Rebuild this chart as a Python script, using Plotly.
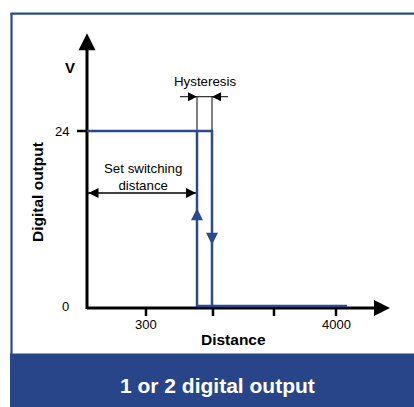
import plotly.graph_objects as go

# ---------------- data (schematic units) ----------------
Y_LEVELS = [0, 24]                    # digital output levels (V)
Y_TICK_TEXT = ["0", "24"]
X_TICKS = [5.9, 12.6, 18.7, 24.9]     # distance tick positions
X_TICK_TEXT = ["300", "", "", "4000"]
SWITCH_ON = 11.0                      # set switching distance
SWITCH_OFF = 12.5                     # switching distance + hysteresis
OUTPUT_END = 26.0
X_AXIS_END = 30.3
Y_AXIS_END = 37.4
HYST_LEVEL = 28.7
SET_LEVEL = 15.5
UP_ARROW_Y = 13.4
DOWN_ARROW_Y = 8.4

# ---------------- styling / geometry ----------------
W, H = 414, 407
X0_PX, XSCALE = 87.0, 10.0            # px of x=0, px per unit
Y0_PX, YSCALE = 306.0, 175.0 / 24.0   # px of y=0, px per unit
x_range = [(0 - X0_PX) / XSCALE, (W - X0_PX) / XSCALE]
y_range = [(Y0_PX - H) / YSCALE, (Y0_PX - 0) / YSCALE]
BLUE = "#2B4A8E"
FONT = "Liberation Sans, Arial, sans-serif"
px_x = lambda p: p / XSCALE
px_y = lambda p: p / YSCALE
AXIS_Y = -px_y(2)  # axis drawn just below the low output level

fig = go.Figure()

# output curve (hysteresis loop)
lo, hi = Y_LEVELS
fig.add_trace(go.Scatter(
    x=[0, SWITCH_OFF, SWITCH_OFF, None, SWITCH_ON, SWITCH_ON, OUTPUT_END],
    y=[hi, hi, lo, None, hi, lo, lo],
    mode="lines", line=dict(color=BLUE, width=2.5), hoverinfo="skip"))

# direction arrows on the curve
fig.add_trace(go.Scatter(x=[SWITCH_ON], y=[UP_ARROW_Y], mode="markers",
                         marker=dict(symbol="arrow-up", size=12, color=BLUE), hoverinfo="skip"))
fig.add_trace(go.Scatter(x=[SWITCH_OFF], y=[DOWN_ARROW_Y], mode="markers",
                         marker=dict(symbol="arrow-down", size=12, color=BLUE), hoverinfo="skip"))

shapes = []
# axes lines
shapes.append(dict(type="line", xref="x", yref="y", x0=0, x1=X_AXIS_END - px_x(12),
                   y0=AXIS_Y, y1=AXIS_Y, line=dict(color="black", width=3), layer="below"))
shapes.append(dict(type="line", xref="x", yref="y", x0=0, x1=0,
                   y0=AXIS_Y - px_y(1), y1=Y_AXIS_END - px_y(12), line=dict(color="black", width=3), layer="below"))
# x ticks
for t in X_TICKS:
    shapes.append(dict(type="line", xref="x", yref="y", x0=t, x1=t,
                       y0=AXIS_Y, y1=AXIS_Y - px_y(8), line=dict(color="black", width=2.5), layer="below"))
# y tick at 24
shapes.append(dict(type="line", xref="x", yref="y", x0=-px_x(10), x1=0,
                   y0=hi, y1=hi, line=dict(color="black", width=2.5), layer="below"))
# hysteresis guide lines
for xv in [SWITCH_ON, SWITCH_OFF]:
    shapes.append(dict(type="line", xref="x", yref="y", x0=xv, x1=xv,
                       y0=hi, y1=HYST_LEVEL, line=dict(color="black", width=1), layer="below"))
shapes.append(dict(type="line", xref="x", yref="y", x0=SWITCH_ON - px_x(17), x1=SWITCH_OFF + px_x(16),
                   y0=HYST_LEVEL, y1=HYST_LEVEL, line=dict(color="black", width=1), layer="below"))
# set switching distance line
shapes.append(dict(type="line", xref="x", yref="y", x0=0, x1=SWITCH_ON,
                   y0=SET_LEVEL, y1=SET_LEVEL, line=dict(color="black", width=1.3), layer="below"))
# frame and banner
shapes.append(dict(type="line", xref="paper", yref="paper", x0=10.5 / W, x1=1,
                   y0=1 - 13.7 / H, y1=1 - 13.7 / H, line=dict(color=BLUE, width=2.2)))
shapes.append(dict(type="line", xref="paper", yref="paper", x0=11.5 / W, x1=11.5 / W,
                   y0=1 - 13 / H, y1=1 - 354 / H, line=dict(color=BLUE, width=2.2)))
shapes.append(dict(type="rect", xref="paper", yref="paper", x0=10 / W, x1=1,
                   y0=0, y1=1 - 353.5 / H, line=dict(width=0), fillcolor="#28458A"))

# black arrowheads
fig.add_trace(go.Scatter(x=[0], y=[Y_AXIS_END], mode="markers",
                         marker=dict(symbol="arrow-up", size=17, color="black"), hoverinfo="skip"))
fig.add_trace(go.Scatter(x=[X_AXIS_END], y=[AXIS_Y], mode="markers",
                         marker=dict(symbol="arrow-right", size=16, color="black"), hoverinfo="skip"))
fig.add_trace(go.Scatter(x=[SWITCH_ON, SWITCH_OFF], y=[HYST_LEVEL, HYST_LEVEL], mode="markers",
                         marker=dict(symbol=["arrow-right", "arrow-left"], size=9, color="black"),
                         hoverinfo="skip"))
fig.add_trace(go.Scatter(x=[0 + px_x(1.5), SWITCH_ON - px_x(1)], y=[SET_LEVEL, SET_LEVEL], mode="markers",
                         marker=dict(symbol=["arrow-left", "arrow-right"], size=10, color="black"),
                         hoverinfo="skip"))

ann = []
def txt(x, y, s, size=12, bold=False, color="black", **kw):
    ann.append(dict(x=x, y=y, xref="x", yref="y", text=f"<b>{s}</b>" if bold else s,
                    showarrow=False, font=dict(family=FONT, size=size, color=color), **kw))

for v, s in zip(Y_LEVELS, Y_TICK_TEXT):
    txt(-px_x(16), v, s, size=13, xanchor="right", yanchor="middle")
for t, s in zip(X_TICKS, X_TICK_TEXT):
    if s:
        txt(t, AXIS_Y - px_y(16), s, size=13, yanchor="middle")
txt(px_x(233 - X0_PX), px_y(Y0_PX - 339), "Distance", size=15.5, bold=True, yanchor="middle")
txt(-px_x(17), px_y(Y0_PX - 67), "V", size=15, bold=True, yanchor="middle")
txt(-px_x(50), px_y(Y0_PX - 192), "Digital output", size=15.5, bold=True, textangle=-90,
    xanchor="center", yanchor="middle")
txt((SWITCH_ON + SWITCH_OFF) / 2, px_y(Y0_PX - 81.5), "Hysteresis", size=13.3, yanchor="middle")
txt(SWITCH_ON / 2 + px_x(1), px_y(Y0_PX - 176.5), "Set switching<br>distance", size=13.3, yanchor="middle")
ann.append(dict(x=217.5 / W, y=1 - 385 / H, xref="paper", yref="paper", text="<b>1 or 2 digital output</b>",
                showarrow=False, font=dict(family=FONT, size=21, color="white"), yanchor="middle"))

fig.update_layout(
    width=W, height=H, margin=dict(l=0, r=0, t=0, b=0),
    paper_bgcolor="white", plot_bgcolor="white", showlegend=False,
    xaxis=dict(range=x_range, visible=False, fixedrange=True),
    yaxis=dict(range=y_range, visible=False, fixedrange=True),
    shapes=shapes, annotations=ann,
)
fig.write_html("out.html", config={"displayModeBar": False},
               post_script="document.body.style.margin='0';document.body.style.overflow='hidden';")
